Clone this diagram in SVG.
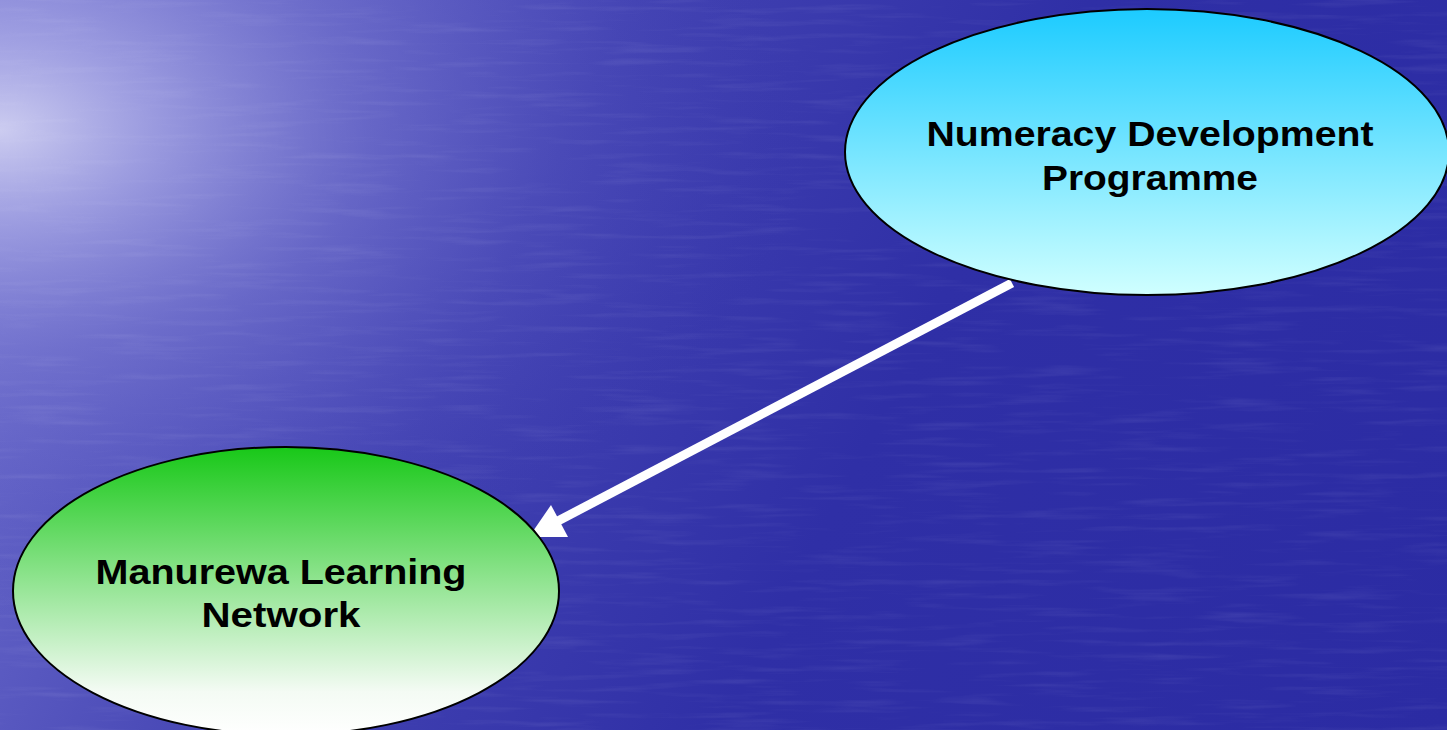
<svg xmlns="http://www.w3.org/2000/svg" width="1447" height="730" viewBox="0 0 1447 730">
  <defs>
    <linearGradient id="bgLin" x1="0" y1="0" x2="1447" y2="730" gradientUnits="userSpaceOnUse">
      <stop offset="0" stop-color="#7676d2"/>
      <stop offset="0.35" stop-color="#4242b2"/>
      <stop offset="0.6" stop-color="#2f2fa6"/>
      <stop offset="1" stop-color="#2b2ba3"/>
    </linearGradient>
    <radialGradient id="bgGlow" cx="0" cy="130" r="820" gradientUnits="userSpaceOnUse" gradientTransform="translate(0 130) scale(1 0.6) translate(0 -130)">
      <stop offset="0" stop-color="#dcdcf6" stop-opacity="0.85"/>
      <stop offset="0.18" stop-color="#b4b4ea" stop-opacity="0.7"/>
      <stop offset="0.45" stop-color="#8484d6" stop-opacity="0.4"/>
      <stop offset="0.8" stop-color="#5a5ac4" stop-opacity="0.12"/>
      <stop offset="1" stop-color="#3a3ab0" stop-opacity="0"/>
    </radialGradient>
    <filter id="water" x="0" y="0" width="100%" height="100%">
      <feTurbulence type="fractalNoise" baseFrequency="0.01 0.15" numOctaves="3" seed="7" result="n"/>
      <feColorMatrix in="n" type="matrix" values="0 0 0 0 0.85  0 0 0 0 0.85  0 0 0 0 1  0 0 0 1.4 -0.7"/>
    </filter>
    <linearGradient id="gBlue" x1="0" y1="0" x2="0" y2="1">
      <stop offset="0" stop-color="#1ccbff"/>
      <stop offset="1" stop-color="#d0ffff"/>
    </linearGradient>
    <linearGradient id="gGreen" x1="0" y1="0" x2="0" y2="1">
      <stop offset="0" stop-color="#18c818"/>
      <stop offset="0.85" stop-color="#f4fbf4"/>
      <stop offset="1" stop-color="#ffffff"/>
    </linearGradient>
    <style>
      .node { stroke: #000000; stroke-width: 2; }
      .label { font-family: "Liberation Sans", Arial, sans-serif; font-weight: bold; font-size: 35px; fill: #000000; text-anchor: middle; }
      .conn { stroke: #ffffff; stroke-width: 9; fill: none; }
      .head { fill: #ffffff; }
    </style>
  </defs>

  <rect x="0" y="0" width="1447" height="730" fill="url(#bgLin)"/>
  <rect x="0" y="0" width="1447" height="730" fill="url(#bgGlow)"/>
  <rect x="0" y="0" width="1447" height="730" filter="url(#water)" opacity="0.12"/>

  <g id="connectors">
    <line class="conn" x1="1012" y1="283" x2="556" y2="522"/>
    <polygon class="head" points="529,537 551,505 568,537"/>
  </g>

  <g id="node-numeracy">
    <ellipse class="node" cx="1147" cy="152" rx="302" ry="143" fill="url(#gBlue)"/>
    <text class="label" x="1150" y="146" textLength="447" lengthAdjust="spacingAndGlyphs">Numeracy Development</text>
    <text class="label" x="1150" y="190" textLength="216" lengthAdjust="spacingAndGlyphs">Programme</text>
  </g>

  <g id="node-manurewa">
    <ellipse class="node" cx="286" cy="591" rx="273" ry="144" fill="url(#gGreen)"/>
    <text class="label" x="281" y="584" textLength="371" lengthAdjust="spacingAndGlyphs">Manurewa Learning</text>
    <text class="label" x="281" y="627" textLength="159" lengthAdjust="spacingAndGlyphs">Network</text>
  </g>
</svg>
